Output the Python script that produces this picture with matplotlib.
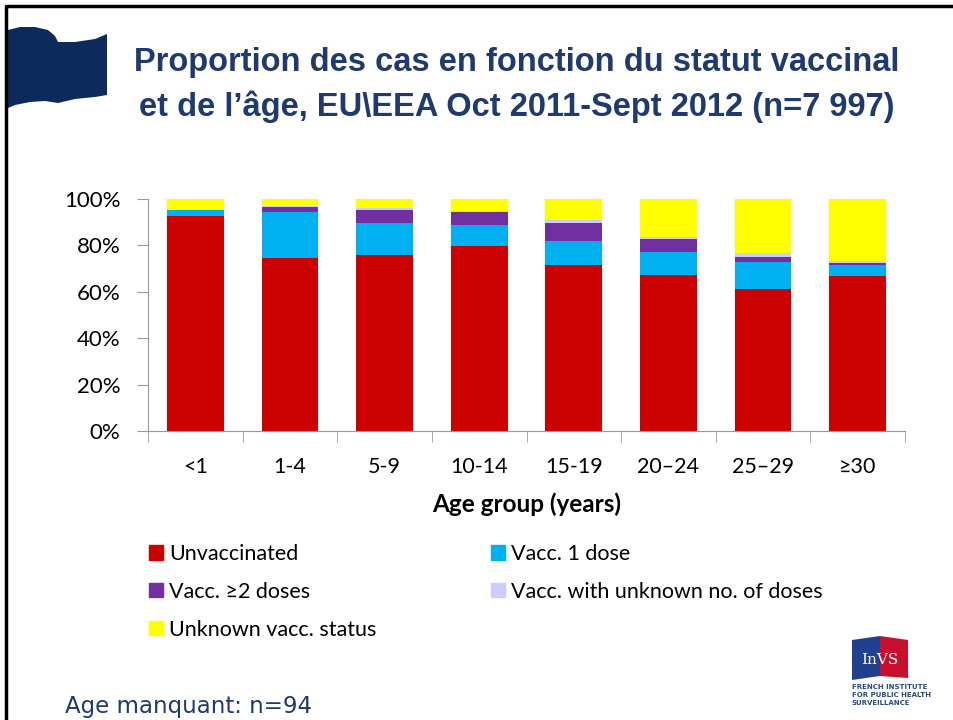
import matplotlib
matplotlib.use("Agg")
import matplotlib.pyplot as plt
import matplotlib.patches as mpatches
import matplotlib.lines as mlines
import numpy as np

# data (percent)
age_groups = ["<1", "1-4", "5-9", "10-14", "15-19", "20–24", "25–29", "≥30"]
unvaccinated = [92.8, 74.4, 76.0, 79.9, 71.7, 67.4, 61.3, 66.7]
one_dose = [2.5, 20.0, 13.5, 8.9, 10.1, 9.6, 11.5, 4.7]
two_doses = [0.0, 2.2, 5.9, 5.7, 8.0, 5.9, 2.3, 0.9]
unknown_doses = [0.0, 0.3, 0.6, 0.5, 1.3, 0.7, 1.8, 0.8]
unknown_status = [4.7, 3.1, 4.0, 5.0, 8.9, 16.4, 23.1, 26.9]

series = [
    ("Unvaccinated", unvaccinated, "#CC0000"),
    ("Vacc. 1 dose", one_dose, "#00B0F0"),
    ("Vacc. ≥2 doses", two_doses, "#7030A0"),
    ("Vacc. with unknown no. of doses", unknown_doses, "#CCCCFF"),
    ("Unknown vacc. status", unknown_status, "#FFFF00"),
]

navy = "#1F3A6E"
body_font = ["Lato", "DejaVu Sans"]
title_font = ["Liberation Sans", "DejaVu Sans"]

fig = plt.figure(figsize=(9.54, 7.2), dpi=100)
W, H = 954, 720

def fx(px):
    return px / W

def fy(py):
    return 1 - py / H

# slide frame (top and left edges)
fig.lines.append(mlines.Line2D([fx(6.5), fx(6.5), fx(954)], [fy(720), fy(5.5), fy(5.5)],
                               transform=fig.transFigure, color="black", linewidth=2.5))

# navy flag at top left
flag_pts = [(8, 30), (20, 27), (35, 27), (48, 30), (55, 36), (58, 42), (75, 42), (95, 39),
            (107, 34), (107, 95), (95, 97), (75, 99), (58, 103), (45, 101), (30, 102),
            (15, 105), (8, 108)]
fig.patches.append(mpatches.Polygon([(fx(a), fy(b)) for a, b in flag_pts], closed=True,
                                    transform=fig.transFigure, facecolor="#0E2A5C",
                                    edgecolor="none"))

fig.text(fx(517), fy(62), "Proportion des cas en fonction du statut vaccinal",
         ha="center", va="center", fontsize=23.5, fontweight="bold", color=navy, family=title_font)
fig.text(fx(517), fy(107), "et de l\u2019âge, EU\\EEA Oct 2011-Sept 2012 (n=7 997)",
         ha="center", va="center", fontsize=23.5, fontweight="bold", color=navy, family=title_font)

# chart
ax = fig.add_axes([fx(148), fy(431), fx(905 - 148), (431 - 199) / H])
x = np.arange(len(age_groups))
bottom = np.zeros(len(age_groups))
for name, vals, col in series:
    v = np.array(vals) / 100
    ax.bar(x, v, width=0.6, bottom=bottom, color=col, label=name)
    bottom += v

ax.set_xlim(-0.5, len(age_groups) - 0.5)
ax.set_ylim(0, 1)
yt = np.arange(0, 1.01, 0.2)
ax.set_yticks(yt)
ax.set_yticklabels([f"{int(round(t * 100))}%" for t in yt], family=body_font, fontsize=16)
ax.set_xticks(x)
ax.set_xticklabels(age_groups, family=body_font, fontsize=15.5)
ax.set_xticks(np.arange(-0.5, len(age_groups)), minor=True)
ax.tick_params(axis="x", which="major", length=0, pad=19)
ax.tick_params(axis="x", which="minor", length=8, color="#999999")
ax.tick_params(axis="y", length=8, color="#999999", pad=12)
for s in ["top", "right"]:
    ax.spines[s].set_visible(False)
ax.spines["left"].set_color("#999999")
ax.spines["bottom"].set_color("#999999")
ax.set_xlabel("Age group (years)", family=body_font, fontsize=17.5, fontweight="bold", labelpad=11)

# legend
handles = [mpatches.Patch(color=c) for _, _, c in series]
labels = [n for n, _, _ in series]
order = [0, 2, 4, 1, 3]
fig.legend([handles[i] for i in order], [labels[i] for i in order],
           loc="upper left", bbox_to_anchor=(fx(149), fy(544)), ncol=2, frameon=False,
           borderaxespad=0, borderpad=0,
           prop={"family": body_font, "size": 15.5}, handlelength=0.65, handleheight=0.65,
           handletextpad=0.3, columnspacing=5.3, labelspacing=0.83)

# footer
fig.text(fx(65), fy(706), "Age manquant: n=94", ha="left", va="center", fontsize=16.5,
         color=navy, family=["DejaVu Sans"])

# InVS logo
fig.patches.append(mpatches.Polygon([(fx(852), fy(640)), (fx(880), fy(636)), (fx(880), fy(676)), (fx(852), fy(680))],
                                    closed=True, transform=fig.transFigure, facecolor="#23408E", edgecolor="none"))
fig.patches.append(mpatches.Polygon([(fx(880), fy(636)), (fx(908), fy(640)), (fx(908), fy(678)), (fx(880), fy(676))],
                                    closed=True, transform=fig.transFigure, facecolor="#C8102E", edgecolor="none"))
fig.text(fx(880), fy(660), "InVS", ha="center", va="center", fontsize=11, color="white",
         family=["DejaVu Serif"])
for i, line in enumerate(["FRENCH INSTITUTE", "FOR PUBLIC HEALTH", "SURVEILLANCE"]):
    fig.text(fx(852), fy(687 + i * 8), line, ha="left", va="center", fontsize=5,
             fontweight="bold", color="#2B4A7E", family=["DejaVu Sans"])

fig.savefig("out.png", dpi=100)
